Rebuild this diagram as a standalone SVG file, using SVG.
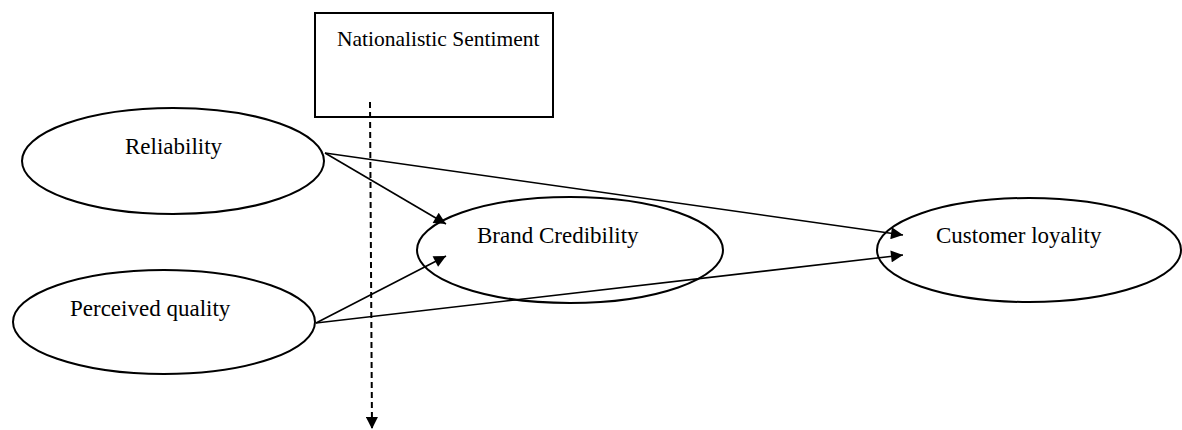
<svg xmlns="http://www.w3.org/2000/svg" width="1182" height="430" viewBox="0 0 1182 430">
  <style>
    .shape { fill: #fff; stroke: #000; stroke-width: 2; }
    .label { font-family: "Liberation Serif", "Times New Roman", serif; font-size: 23px; fill: #000; }
    .box-label { font-size: 21.5px; }
    .link { stroke: #000; stroke-width: 1.6; fill: none; marker-end: url(#arrow); }
    .dashed { stroke: #000; stroke-width: 2; fill: none; stroke-dasharray: 6 4; marker-end: url(#arrow); }
  </style>
  <defs>
    <marker id="arrow" viewBox="0 0 10 10" refX="10" refY="5" markerWidth="16" markerHeight="12" markerUnits="userSpaceOnUse" orient="auto">
      <path d="M0,0 L10,5 L0,10 Z" fill="#000"/>
    </marker>
  </defs>
  <rect width="1182" height="430" fill="#fff"/>

  <g id="nationalistic-sentiment">
    <rect class="shape" x="315" y="13" width="238" height="104"/>
    <text class="label box-label" x="337" y="46">Nationalistic Sentiment</text>
  </g>

  <g id="reliability">
    <ellipse class="shape" cx="173" cy="161" rx="151" ry="53"/>
    <text class="label" x="125" y="154">Reliability</text>
  </g>

  <g id="perceived-quality">
    <ellipse class="shape" cx="164" cy="322" rx="151" ry="52"/>
    <text class="label" x="70" y="316">Perceived quality</text>
  </g>

  <g id="brand-credibility">
    <ellipse class="shape" cx="570" cy="250" rx="153" ry="53"/>
    <text class="label" x="477" y="243">Brand Credibility</text>
  </g>

  <g id="customer-loyality">
    <ellipse class="shape" cx="1029" cy="250" rx="152" ry="52"/>
    <text class="label" x="936" y="243">Customer loyality</text>
  </g>

  <g id="connectors">
    <line class="link" x1="325" y1="153" x2="446" y2="224"/>
    <line class="link" x1="316" y1="323" x2="446" y2="256"/>
    <line class="link" x1="325" y1="153" x2="903" y2="235"/>
    <line class="link" x1="316" y1="323" x2="903" y2="255"/>
    <line class="dashed" x1="370" y1="102" x2="372" y2="429"/>
  </g>
</svg>
